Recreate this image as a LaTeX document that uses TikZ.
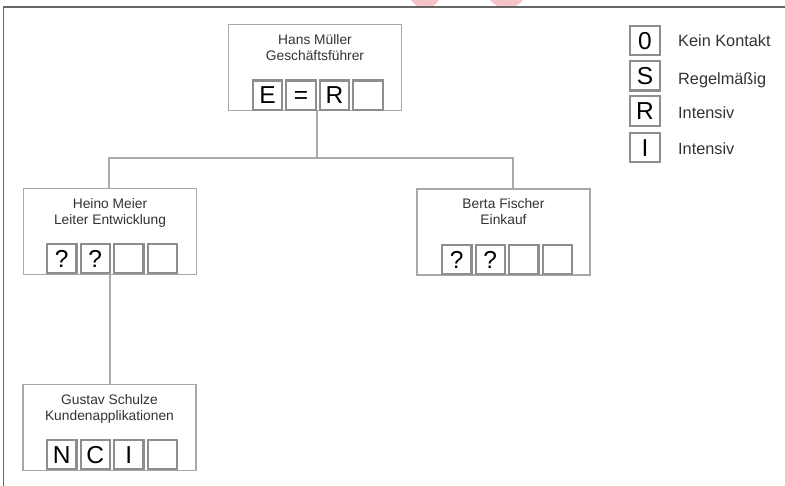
\documentclass[tikz,border=0pt]{standalone}
\usepackage{fontspec}
\setmainfont{Liberation Sans}
\usetikzlibrary{calc}
\definecolor{framecol}{HTML}{666666}
\definecolor{boxcol}{HTML}{A8A8A8}
\definecolor{cellcol}{HTML}{8E8E8E}
\definecolor{linecol}{HTML}{AAAAAA}
\definecolor{pinkcol}{HTML}{F6C4C8}
\definecolor{txtcol}{HTML}{333333}
\tikzset{
  person/.style={draw=boxcol, line width=1.1pt, fill=white, rectangle,
    minimum width=173pt, minimum height=86pt, inner sep=0pt},
  pname/.style={anchor=north, align=center, inner sep=0pt, text=txtcol,
    font=\fontsize{13.8pt}{16pt}\selectfont},
  cell/.style={draw=cellcol, line width=2.2pt, fill=white, rectangle,
    minimum size=29.3pt, inner sep=0pt, text=black,
    font=\fontsize{24.5pt}{26pt}\selectfont, text height=17.5pt, text depth=0pt},
  legtext/.style={anchor=west, inner sep=0pt, text=txtcol,
    font=\fontsize{16.3pt}{18pt}\selectfont, text height=11.7pt, text depth=0pt},
  conn/.style={draw=linecol, line width=1.3pt}
}
\begin{document}
\begin{tikzpicture}[x=1pt,y=-1pt]
\useasboundingbox (0,0) rectangle (785,485);
% cut-off marks at the top edge
\fill[pinkcol] (425,-8.3) circle (16.3);
\fill[pinkcol] (506.5,-13) circle (21);
% frame
\draw[framecol, line width=1.6pt] (3.5,486) -- (3.5,6.8) -- (786,6.8);

% person boxes
\node[person] (top) at (315,67.5) {};
\node[person] (heino) at (110,231.5) {};
\node[person] (berta) at (503.5,232) {};
\node[person] (gustav) at (109.5,427.5) {};

\node[pname] (topname) at ([yshift=-10pt]top.north) {Hans Müller\\Geschäftsführer};
\node[pname] (heinoname) at ([yshift=-10pt]heino.north) {Heino Meier\\Leiter Entwicklung};
\node[pname] (bertaname) at ([yshift=-10pt]berta.north) {Berta Fischer\\Einkauf};
\node[pname] (gustavname) at ([yshift=-10pt]gustav.north) {Gustav Schulze\\Kundenapplikationen};

% cells
\foreach \l [count=\i] in {E,=,R,{}}
  \node[cell] (topc\i) at (267.5+33.5*\i-33.5,95.2) {\l};
\foreach \l [count=\i] in {?,?,{},{}}
  \node[cell] (heinoc\i) at (61.75+33.5*\i-33.5,258.5) {\l};
\foreach \l [count=\i] in {?,?,{},{}}
  \node[cell] (bertac\i) at (456.75+33.5*\i-33.5,259.5) {\l};
\foreach \l [count=\i] in {N,C,I,{}}
  \node[cell] (gustavc\i) at (61.75+33.5*\i-33.5,454.5) {\l};

% connectors
\coordinate (j) at (317,158);
\draw[conn] ([xshift=2pt]top.south) -- (j);
\draw[conn] ([xshift=-1pt]heino.north) -- ([xshift=-1pt]heino.north |- j)
  -- ([xshift=9.5pt]berta.north |- j) -- ([xshift=9.5pt]berta.north);
\draw[conn] (heino.south) -- (gustav.north -| heino.south);

% legend
\node[cell] (lg1) at (645,40.5) {0};
\node[cell] (lg2) at (645,75.8) {S};
\node[cell] (lg3) at (645,111) {R};
\node[cell] (lg4) at (645,147.5) {I};
\node[legtext] (lt1) at (678,41) {Kein Kontakt};
\node[legtext] (lt2) at (678,78.5) {Regelmäßig};
\node[legtext] (lt3) at (678,113) {Intensiv};
\node[legtext] (lt4) at (678,149) {Intensiv};
\end{tikzpicture}
\end{document}
